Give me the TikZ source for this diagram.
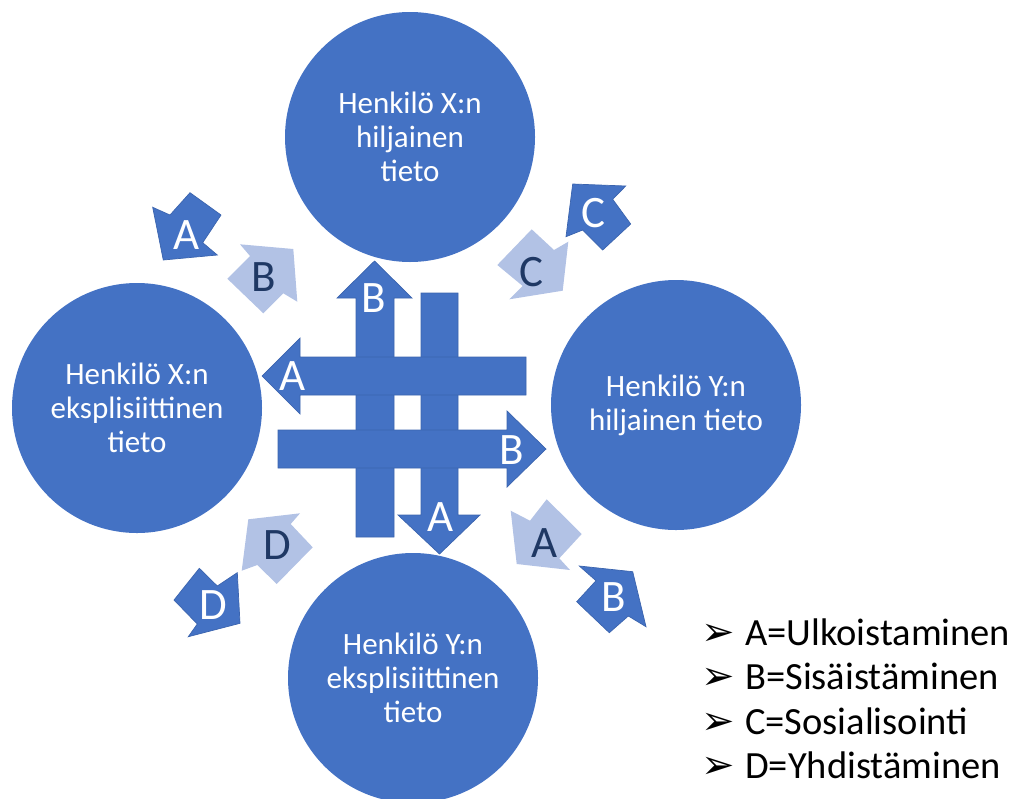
\documentclass[tikz,border=0pt]{standalone}
\usepackage{fontspec}
\setmainfont{Carlito}
\newfontfamily\dvfont{DejaVu Sans}
\definecolor{cblue}{HTML}{4472C4}
\definecolor{cedge}{HTML}{3B64AE}
\definecolor{clight}{HTML}{B2C2E5}
\definecolor{cnavy}{HTML}{1F3864}
\tikzset{
  knowcircle/.style={circle, fill=cblue, draw=none, minimum size=250pt, inner sep=0pt,
    text=white, align=center, font=\fontsize{31}{34}\selectfont},
  darkarrow/.style={fill=cblue, draw=cedge, line width=0.7pt, line join=miter},
  lightarrow/.style={fill=clight, draw=none},
  whiteletter/.style={text=white, inner sep=0pt, font=\fontsize{45}{45}\selectfont},
  navyletter/.style={text=cnavy, inner sep=0pt, font=\fontsize{45}{45}\selectfont},
  legendtext/.style={anchor=base west, inner sep=0pt, font=\fontsize{38.5}{40}\selectfont},
  legendbullet/.style={anchor=base, inner sep=0pt, font=\dvfont\fontsize{40}{42}\selectfont}
}
\begin{document}
\begin{tikzpicture}[x=1pt, y=-1pt]
\useasboundingbox (0,0) rectangle (1016,798);
\clip (0,0) rectangle (1016,798);

% circles
\node[knowcircle] (top) at (410,137) {Henkilö X:n\\hiljainen\\tieto};
\node[knowcircle] (left) at (137,408) {Henkilö X:n\\eksplisiittinen\\tieto};
\node[knowcircle] (right) at (676,405) {Henkilö Y:n\\hiljainen tieto};
\node[knowcircle] (bottom) at (413,678) {Henkilö Y:n\\eksplisiittinen\\tieto};

% central arrows: verticals first
\draw[darkarrow] (356,537) -- (394,537) -- (394,298) -- (412,298) -- (374.5,261) -- (337,298) -- (356,298) -- cycle;
\draw[darkarrow] (421,293) -- (458,293) -- (458,515) -- (480,515) -- (439.5,554) -- (398,515) -- (421,515) -- cycle;
% horizontals on top
\draw[darkarrow] (526,357) -- (526,395) -- (300,395) -- (300,414) -- (262,376) -- (300,338) -- (300,357) -- cycle;
\draw[darkarrow] (278,430) -- (507,430) -- (507,411) -- (546,449) -- (507,487) -- (507,468) -- (278,468) -- cycle;

\node[whiteletter] (cB1) at (374,298) {B};
\node[whiteletter] (cA1) at (293,376) {A};
\node[whiteletter] (cB2) at (512,450) {B};
\node[whiteletter] (cA2) at (441,517) {A};

% corner arrows
% upper left
\draw[darkarrow] (152.7,207.3) -- (170,215) -- (190,192.7) -- (221,215) -- (202.7,242.7) -- (217.3,255) -- (163.3,260) -- cycle;
\node[whiteletter] (lA) at (186.7,235) {A};
\fill[lightarrow] (240,244.3) -- (293.3,249) -- (297.3,301.7) -- (283.3,293.3) -- (263.3,313.3) -- (227.3,278.7) -- (250,256) -- cycle;
\node[navyletter] (lB) at (263.3,277) {B};
% upper right
\draw[darkarrow] (572.7,184) -- (625.7,186) -- (612.7,199.3) -- (630.7,224) -- (602.7,250) -- (582.7,230) -- (566,236.7) -- cycle;
\node[whiteletter] (rC) at (593.3,213) {C};
\fill[lightarrow] (497.3,265) -- (531.7,229.3) -- (554,250) -- (568.3,241.7) -- (562.7,290.7) -- (509.3,299.3) -- (522.7,286) -- cycle;
\node[navyletter] (lC) at (531.7,271.7) {C};
% lower left
\fill[lightarrow] (248.3,519.3) -- (300,513.3) -- (290.7,524) -- (312.7,547.3) -- (276.7,584) -- (257.3,565) -- (241.7,570.7) -- cycle;
\node[navyletter] (lD) at (277,545) {D};
\draw[darkarrow] (174,600) -- (199.3,568.3) -- (217.3,586) -- (237.3,572.7) -- (240,623.3) -- (188.3,636.7) -- (197.3,624) -- cycle;
\node[whiteletter] (dD) at (213.3,605) {D};
% lower right
\fill[lightarrow] (510.7,510.7) -- (530,520.7) -- (546.7,499.3) -- (581.7,534) -- (559.3,558.3) -- (570,570) -- (516.7,564) -- cycle;
\node[navyletter] (lA2) at (545,543) {A};
\draw[darkarrow] (579.3,566) -- (632.7,571.7) -- (646,626.7) -- (628.3,616) -- (609.3,632.7) -- (576.7,601.7) -- (596,580.7) -- cycle;
\node[whiteletter] (dB) at (613.3,597) {B};

% legend
\node[legendbullet] (b1) at (718,645) {➢};
\node[legendtext] (t1) at (745,645) {A=Ulkoistaminen};
\node[legendbullet] (b2) at (718,689.5) {➢};
\node[legendtext] (t2) at (745,689.5) {B=Sisäistäminen};
\node[legendbullet] (b3) at (718,734) {➢};
\node[legendtext] (t3) at (745,734) {C=Sosialisointi};
\node[legendbullet] (b4) at (718,778.5) {➢};
\node[legendtext] (t4) at (745,778.5) {D=Yhdistäminen};
\end{tikzpicture}
\end{document}
